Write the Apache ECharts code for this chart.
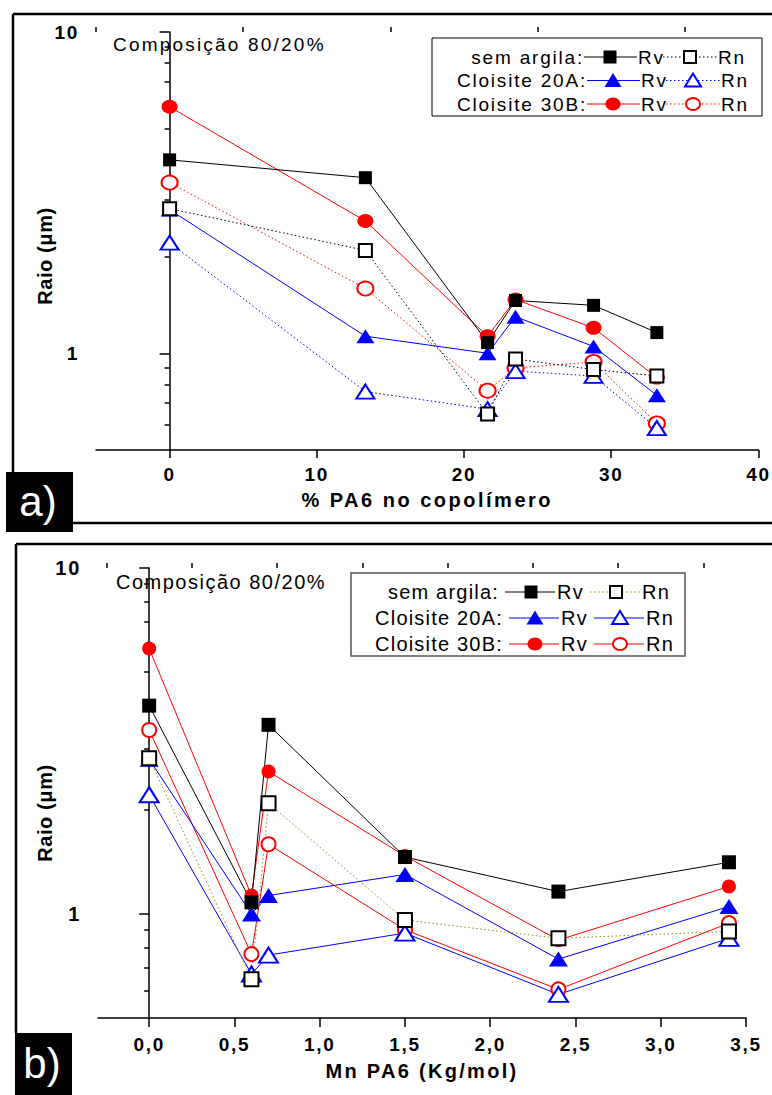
<!DOCTYPE html>
<html><head><meta charset="utf-8">
<script src="https://cdn.jsdelivr.net/npm/echarts@6/dist/echarts.min.js"></script>
<style>html,body{margin:0;padding:0;background:#fff}#c{width:772px;height:1095px}#c text{letter-spacing:1.7px}</style>
</head><body><div id="c"></div>
<script>
// ---- data ----
const pa6 = [0, 13.3, 21.6, 23.5, 28.8, 33.1];        // % PA6 no copolímero
const mnPA6 = [0, 0.7, 0.6, 1.5, 3.4, 2.4];           // Mn PA6 (Kg/mol)
const rvSem = [4.0, 3.52, 1.08, 1.46, 1.41, 1.16];
const rnSem = [2.82, 2.09, 0.647, 0.96, 0.89, 0.85];
const rv20A = [2.8, 1.13, 1.0, 1.30, 1.05, 0.74];
const rn20A = [2.21, 0.76, 0.67, 0.88, 0.85, 0.585];
const rv30B = [5.85, 2.58, 1.13, 1.47, 1.20, 0.84];
const rn30B = [3.40, 1.59, 0.765, 0.90, 0.94, 0.605];
const xTicksA = [0, 10, 20, 30, 40];
const xMinorA = [-5, 5, 15, 25, 35];
const xTicksB = [0, 0.5, 1, 1.5, 2, 2.5, 3, 3.5];
const xMinorB = [-0.25, 0.25, 0.75, 1.25, 1.75, 2.25, 2.75, 3.25];
const yTicks = [1, 10];
const yMinor = [0.6, 0.7, 0.8, 0.9, 2, 3, 4, 5, 6, 7, 8, 9];
const groupNames = ['sem argila:', 'Cloisite 20A:', 'Cloisite 30B:'];

// ---- styles ----
const FONT = 'Liberation Sans';
const BLACK = '#000000', BLUE = '#0000ff', RED = '#ff0000', OLIVE = '#8c8c1e';

function pts(xs, ys, sort) {
  const p = xs.map((x, i) => [x, ys[i]]);
  if (sort) p.sort((a, b) => a[0] - b[0]);
  return p;
}

const groups = [
  { rv: rv30B, rn: rn30B, color: RED, sym: 'circle', rnColorB: RED, rnDotB: false },
  { rv: rv20A, rn: rn20A, color: BLUE, sym: 'triangle', rnColorB: BLUE, rnDotB: false },
  { rv: rvSem, rn: rnSem, color: BLACK, sym: 'rect', rnColorB: OLIVE, rnDotB: true }
];

function symSize(sym, panel) {
  if (sym === 'rect') return panel === 0 ? 13 : 14;
  if (sym === 'circle') return panel === 0 ? [16, 14] : 14;
  return panel === 0 ? [18, 14] : [19, 15];
}

const series = [];
[0, 1].forEach(panel => {
  const xs = panel === 0 ? pa6 : mnPA6;
  groups.forEach(g => {
    series.push({
      type: 'line', xAxisIndex: panel * 2, yAxisIndex: panel * 2,
      data: pts(xs, g.rv, true), symbol: g.sym, symbolSize: symSize(g.sym, panel),
      lineStyle: { color: g.color, width: 1 },
      itemStyle: { color: g.color, borderWidth: 0 },
      showSymbol: true, animation: false, silent: true
    });
    const lc = panel === 0 ? g.color : g.rnColorB;
    const dotted = panel === 0 ? true : g.rnDotB;
    series.push({
      type: 'line', xAxisIndex: panel * 2, yAxisIndex: panel * 2,
      data: pts(xs, g.rn, true), symbol: g.sym, symbolSize: symSize(g.sym, panel),
      lineStyle: { color: lc, width: 1, type: dotted ? [1.5, 2.5] : 'solid' },
      itemStyle: { color: '#ffffff', borderColor: g.color, borderWidth: 2 },
      showSymbol: true, animation: false, silent: true
    });
  });
});

const axLine = { show: true, lineStyle: { color: '#000', width: 1.5 } };
const tickLS = { color: '#000', width: 1.5 };

function xAxes(grid, min, max, ticks, minor, fmt, name, fs, margin, gap, majLen) {
  return [{
    gridIndex: grid, type: 'value', min: min, max: max,
    axisLine: axLine, splitLine: { show: false },
    axisTick: { show: true, customValues: ticks, length: majLen, lineStyle: tickLS },
    axisLabel: { customValues: ticks, margin: margin, formatter: fmt, color: '#000', fontFamily: FONT, fontWeight: 'bold', fontSize: fs },
    name: name, nameLocation: 'middle', nameGap: gap, nameMoveOverlap: false,
    nameTextStyle: { color: '#000', fontFamily: FONT, fontWeight: 'bold', fontSize: 20 }
  }, {
    gridIndex: grid, type: 'value', min: min, max: max,
    axisLine: { show: false }, splitLine: { show: false },
    axisTick: { show: true, customValues: minor, length: 5, lineStyle: tickLS },
    axisLabel: { show: false }
  }];
}
function yAxes(grid, fs, gap, shift) {
  return [{
    gridIndex: grid, type: 'log', logBase: 10, min: 0.5, max: 10, position: 'left',
    axisLine: axLine, splitLine: { show: false }, minorSplitLine: { show: false },
    axisTick: { show: true, customValues: yTicks, length: 10, lineStyle: tickLS },
    axisLabel: { customValues: yTicks, margin: 17, formatter: v => String(Math.round(v * 100) / 100), color: '#000', fontFamily: FONT, fontWeight: 'bold', fontSize: fs },
    name: 'Raio (μm)', nameLocation: 'middle', nameGap: gap, nameRotate: 90, nameMoveOverlap: false,
    nameTextStyle: { color: '#000', fontFamily: FONT, fontWeight: 'bold', fontSize: 20, padding: [0, shift, 0, 0] }
  }, {
    gridIndex: grid, type: 'log', logBase: 10, min: 0.5, max: 10, position: 'left', offset: 0,
    axisLine: { show: false }, splitLine: { show: false },
    axisTick: { show: true, customValues: yMinor, length: 5, lineStyle: tickLS },
    axisLabel: { show: false }
  }];
}

// ---- legend / decorations (graphic) ----
const graphic = [];
function line(x1, y1, x2, y2, color, w, dash) {
  graphic.push({ type: 'line', shape: { x1, y1, x2, y2 }, style: { stroke: color, lineWidth: w, lineDash: dash || null }, silent: true });
}
function text(x, y, str, opts) {
  graphic.push({ type: 'text', x: x, y: y, style: Object.assign({ text: str, fill: '#000', font: '19px "' + FONT + '"', textVerticalAlign: 'middle' }, opts || {}), silent: true });
}
function marker(sym, cx, cy, color, open, s) {
  const st = open ? { fill: '#fff', stroke: color, lineWidth: 2 } : { fill: color };
  if (sym === 'rect') graphic.push({ type: 'rect', shape: { x: cx - s / 2, y: cy - s / 2, width: s, height: s }, style: st, silent: true });
  else if (sym === 'circle') graphic.push({ type: 'ellipse', shape: { cx, cy, rx: s / 2 + 1, ry: s / 2 }, style: st, silent: true });
  else graphic.push({ type: 'polygon', shape: { points: [[cx, cy - s / 2 - 1], [cx + s / 2 + 2, cy + s / 2], [cx - s / 2 - 2, cy + s / 2]] }, style: st, silent: true });
}

// frames
line(13, 14, 772, 14, '#000', 2.5); line(13, 14, 13, 472, '#000', 2.5);
line(73, 523, 772, 523, '#000', 2.5);
line(16, 544, 772, 544, '#000', 2.5); line(16, 544, 16, 1033, '#000', 2.5);
graphic.push({ type: 'rect', shape: { x: 6, y: 472, width: 67, height: 60 }, style: { fill: '#000' }, silent: true });
text(38, 501, 'a)', { fill: '#fff', font: '42px "' + FONT + '"', textAlign: 'center' });
graphic.push({ type: 'rect', shape: { x: 15, y: 1033, width: 57, height: 62 }, style: { fill: '#000' }, silent: true });
text(42, 1063, 'b)', { fill: '#fff', font: '42px "' + FONT + '"', textAlign: 'center' });

text(113, 44, 'Composição 80/20%', { font: '19px "' + FONT + '"' });
text(116, 582, 'Composição 80/20%', { font: '20px "' + FONT + '"' });

// legend a
graphic.push({ type: 'rect', shape: { x: 432, y: 38, width: 330, height: 78 }, style: { fill: 'none', stroke: '#000', lineWidth: 1 }, silent: true });
const legCols = [BLACK, BLUE, RED], legSyms = ['rect', 'triangle', 'circle'];
[57, 80.5, 104].forEach((y, i) => {
  const o = i === 0 ? 0 : 3;
  text(584 + o, y, groupNames[i], { textAlign: 'right', font: '19px "' + FONT + '"' });
  line(584 + o, y, 637 + o, y, legCols[i], 1);
  marker(legSyms[i], 610 + o, y, legCols[i], false, 13);
  text(638 + o, y, 'Rv', { font: '19px "' + FONT + '"' });
  line(663 + o, y, 717 + o, y, legCols[i], 1, [1.5, 2.5]);
  marker(legSyms[i], 690 + o, y, legCols[i], true, 12);
  text(718 + o, y, 'Rn', { font: '19px "' + FONT + '"' });
});
// legend b
graphic.push({ type: 'rect', shape: { x: 351, y: 573, width: 334, height: 83 }, style: { fill: 'none', stroke: '#555', lineWidth: 1.5 }, silent: true });
const legColsRnB = [OLIVE, BLUE, RED];
[592, 618, 644].forEach((y, i) => {
  const o = i === 0 ? 0 : 4;
  text(499 + o, y, groupNames[i], { textAlign: 'right', font: '20px "' + FONT + '"' });
  line(505 + o, y, 555 + o, y, legCols[i], 1);
  marker(legSyms[i], 531 + o, y, legCols[i], false, 13);
  text(557 + o, y, 'Rv', { font: '20px "' + FONT + '"' });
  line(590 + o, y, 640 + o, y, legColsRnB[i], 1, i === 0 ? [1.5, 2.5] : null);
  marker(legSyms[i], 616 + o, y, legCols[i], true, 12);
  text(642 + o, y, 'Rn', { font: '20px "' + FONT + '"' });
});

const option = {
  animation: false,
  backgroundColor: '#fff',
  grid: [
    { left: 96, top: 32, width: 664, height: 418 },
    { left: 98, top: 568, width: 648, height: 450 }
  ],
  xAxis: [].concat(
    xAxes(0, -5, 40, xTicksA, xMinorA, v => String(v), '% PA6 no copolímero', 19, 15, 40, 8),
    xAxes(1, -0.3, 3.5, xTicksB, xMinorB, v => v.toFixed(1).replace('.', ','), 'Mn PA6 (Kg/mol)', 19, 17, 43, 9)
  ),
  yAxis: [].concat(yAxes(0, 19, 41, 30), yAxes(1, 20, 43, 40)),
  series: series,
  graphic: graphic
};
const chart = echarts.init(document.getElementById('c'), null, { renderer: 'svg' });
chart.setOption(option);

// per-text letter spacing (reference text is tracked out)
function track() {
  document.querySelectorAll('#c text').forEach(t => {
    const s = (t.textContent || '').trim();
    const top = t.getBoundingClientRect().top;
    const a = top < 530;
    let ls = null;
    if (s === 'Composição 80/20%') ls = a ? 2.2 : 1.5;
    else if (groupNames.indexOf(s) >= 0 || s === 'Rv' || s === 'Rn') ls = a ? 1.8 : 1.2;
    else if (s === 'Raio (μm)') ls = 0.6;
    else if (s === '% PA6 no copolímero') ls = 2.5;
    else if (s === 'Mn PA6 (Kg/mol)') ls = 2.3;
    else if (s === 'a)' || s === 'b)') ls = 0;
    if (ls !== null) t.style.letterSpacing = ls + 'px';
  });
}
track();
</script>
</body></html>
